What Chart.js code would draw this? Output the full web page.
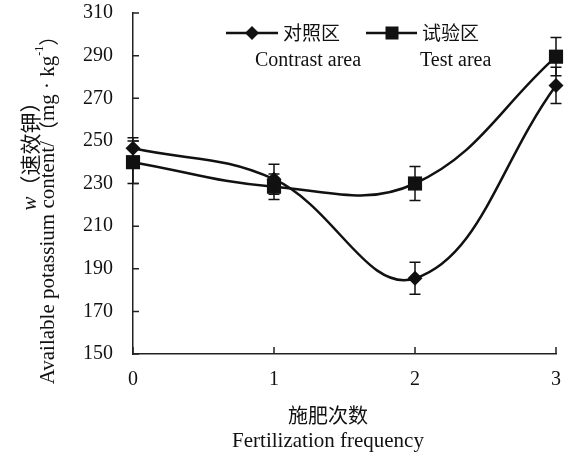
<!DOCTYPE html>
<html>
<head>
<meta charset="utf-8">
<script src="https://cdn.jsdelivr.net/npm/chart.js@4/dist/chart.umd.min.js"></script>
<style>
  html, body { margin: 0; padding: 0; background: #fff; }
  #c { display: block; }
</style>
</head>
<body>
<canvas id="c" width="566" height="455"></canvas>
<script>
// --- DATA ---
const categories = ['0', '1', '2', '3'];
const contrastValues = [246.5, 232, 185.5, 276];
const contrastErrors = [5, 7, 7.5, 8.5];
const testValues = [240, 228.5, 230, 289.5];
const testErrors = [10, 6, 8, 9];
const yTicks = [150, 170, 190, 210, 230, 250, 270, 290, 310];

const SERIF = '"Liberation Serif", "Times New Roman", serif';
const CJK = '"Noto Sans CJK SC", sans-serif';
const INK = '#111';

// error bars
const errorBars = {
  id: 'errorBars',
  afterDatasetsDraw(chart) {
    const { ctx, scales: { x, y } } = chart;
    const sets = [[contrastValues, contrastErrors], [testValues, testErrors]];
    ctx.save();
    ctx.strokeStyle = INK;
    ctx.lineWidth = 1.5;
    sets.forEach(([vals, errs]) => {
      vals.forEach((v, i) => {
        const px = x.getPixelForValue(i);
        const top = y.getPixelForValue(v + errs[i]);
        const bot = y.getPixelForValue(v - errs[i]);
        ctx.beginPath();
        ctx.moveTo(px, top); ctx.lineTo(px, bot);
        ctx.moveTo(px - 5.5, top); ctx.lineTo(px + 5.5, top);
        ctx.moveTo(px - 5.5, bot); ctx.lineTo(px + 5.5, bot);
        ctx.stroke();
      });
    });
    ctx.restore();
  }
};

// inward tick marks on both axes
const innerTicks = {
  id: 'innerTicks',
  afterDraw(chart) {
    const { ctx, chartArea: a, scales: { x, y } } = chart;
    ctx.save();
    ctx.strokeStyle = '#222';
    ctx.lineWidth = 1.5;
    ctx.beginPath();
    y.ticks.forEach((t, i) => {
      const py = y.getPixelForTick(i);
      ctx.moveTo(a.left, py); ctx.lineTo(a.left + 6, py);
    });
    x.ticks.forEach((t, i) => {
      const px = x.getPixelForTick(i);
      ctx.moveTo(px, a.bottom); ctx.lineTo(px, a.bottom - 7);
    });
    ctx.stroke();
    ctx.restore();
  }
};

function drawRuns(ctx, runs, cx, cy) {
  // runs: [text, font, dy]
  let total = 0;
  runs.forEach(r => { ctx.font = r[1]; total += ctx.measureText(r[0]).width; });
  let xx = cx - total / 2;
  runs.forEach(r => {
    ctx.font = r[1];
    ctx.fillText(r[0], xx, cy + (r[2] || 0));
    xx += ctx.measureText(r[0]).width;
  });
}

// legend and axis titles
const texts = {
  id: 'texts',
  afterDraw(chart) {
    const { ctx } = chart;
    ctx.save();
    ctx.fillStyle = INK;
    ctx.strokeStyle = INK;
    ctx.textBaseline = 'middle';
    ctx.textAlign = 'left';

    // legend
    ctx.lineWidth = 2.5;
    ctx.beginPath();
    ctx.moveTo(226, 33); ctx.lineTo(278, 33);
    ctx.moveTo(366, 33); ctx.lineTo(417, 33);
    ctx.stroke();
    ctx.beginPath();
    ctx.moveTo(252 - 7, 33); ctx.lineTo(252, 26); ctx.lineTo(252 + 7, 33); ctx.lineTo(252, 40);
    ctx.closePath(); ctx.fill();
    ctx.fillRect(392 - 6.5, 33 - 6.5, 13, 13);
    ctx.font = '19px ' + CJK;
    ctx.fillText('对照区', 283, 33);
    ctx.fillText('试验区', 422, 33);
    ctx.font = '20px ' + SERIF;
    ctx.fillText('Contrast area', 255, 61);
    ctx.fillText('Test area', 420, 61);

    // x title
    ctx.font = '20px ' + CJK;
    ctx.textAlign = 'center';
    ctx.fillText('施肥次数', 328, 415);
    ctx.font = '21px ' + SERIF;
    ctx.fillText('Fertilization frequency', 328, 441);

    // y title, two rotated lines
    ctx.textAlign = 'left';
    ctx.save();
    ctx.translate(30, 151);
    ctx.rotate(-Math.PI / 2);
    drawRuns(ctx, [
      ['w', 'italic 21px ' + SERIF],
      ['（速效钾）', '21px ' + CJK]
    ], 0, 0);
    ctx.restore();

    ctx.save();
    ctx.translate(48, 205);
    ctx.rotate(-Math.PI / 2);
    drawRuns(ctx, [
      ['Available potassium content/', '21px ' + SERIF],
      ['（', '20px ' + CJK],
      ['mg', '21px ' + SERIF],
      [' · ', '21px ' + SERIF],
      ['kg', '21px ' + SERIF],
      ['-1', '12px ' + SERIF, -8],
      ['）', '20px ' + CJK]
    ], 0, 0);
    ctx.restore();

    ctx.restore();
  }
};

new Chart(document.getElementById('c'), {
  type: 'line',
  data: {
    labels: categories,
    datasets: [
      {
        label: '对照区 Contrast area',
        data: contrastValues,
        borderColor: INK,
        backgroundColor: INK,
        borderWidth: 2.5,
        pointStyle: 'rectRot',
        pointRadius: 7.5,
        pointBorderWidth: 0,
        tension: 0.4,
        clip: false
      },
      {
        label: '试验区 Test area',
        data: testValues,
        borderColor: INK,
        backgroundColor: INK,
        borderWidth: 2.5,
        pointStyle: 'rect',
        pointRadius: 10,
        pointBorderWidth: 0,
        tension: 0.4,
        clip: false
      }
    ]
  },
  options: {
    responsive: false,
    animation: false,
    devicePixelRatio: 1,
    layout: { padding: { left: 0, right: 9, top: 13, bottom: 0 } },
    plugins: { legend: { display: false }, tooltip: { enabled: false } },
    scales: {
      x: {
        type: 'category',
        offset: false,
        grid: { display: false, drawTicks: false },
        border: { display: true, color: '#222', width: 1.5 },
        ticks: { color: INK, font: { family: SERIF, size: 20 }, padding: 14, maxRotation: 0 },
        afterFit(s) { s.height = 101; s.paddingLeft = 0; s.paddingRight = 0; }
      },
      y: {
        min: 150,
        max: 310,
        afterBuildTicks(s) { s.ticks = yTicks.map(v => ({ value: v })); },
        grid: { display: false, drawTicks: false },
        border: { display: true, color: '#222', width: 1.5 },
        ticks: { color: INK, font: { family: SERIF, size: 20 }, padding: 20 },
        afterFit(s) { s.width = 133; s.paddingTop = 0; s.paddingBottom = 0; }
      }
    }
  },
  plugins: [errorBars, innerTicks, texts]
});
</script>
</body>
</html>
